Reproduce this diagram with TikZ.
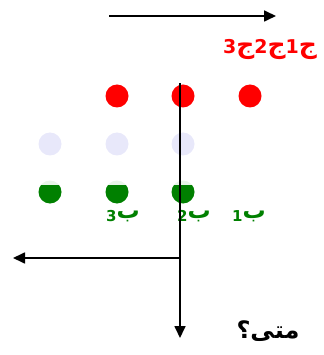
\documentclass[tikz,border=0pt]{standalone}
\usepackage{fontspec}
\usetikzlibrary{arrows.meta}
\newfontfamily\arabicfont[Script=Arabic]{DejaVu Sans}
\TeXXeTstate=1
\definecolor{lav}{RGB}{232,232,250}
\definecolor{grn}{RGB}{0,128,0}
\definecolor{palegrn}{RGB}{232,245,232}
\tikzset{
  dot/.style={circle,minimum size=23pt,inner sep=0pt},
  reddot/.style={dot,fill=red},
  lavdot/.style={dot,fill=lav},
  grndot/.style={dot,fill=palegrn},
  arr/.style={line width=1.7pt,-{Triangle[length=12pt,width=11pt]}},
  lbl/.style={inner sep=0pt,font=\arabicfont\bfseries\fontsize{23}{26}\selectfont},
}
\newcommand\subn[1]{\raisebox{-3pt}{\fontsize{15}{18}\selectfont #1}}
\newcommand\topn[1]{{\fontsize{19}{22}\selectfont #1}}
\begin{document}
\begin{tikzpicture}[x=1pt,y=-1pt]
\useasboundingbox (0,0) rectangle (323,355);
% red row
\node[reddot] (r1) at (117,96) {};
\node[reddot] (r2) at (183,96) {};
\node[reddot] (r3) at (250,96) {};
% lavender row
\node[lavdot] (l1) at (50,144) {};
\node[lavdot] (l2) at (117,144) {};
\node[lavdot] (l3) at (183,144) {};
% green row
\node[grndot] (g1) at (50,192) {};
\node[grndot] (g2) at (117,192) {};
\node[grndot] (g3) at (183,192) {};
\begin{scope}
\clip (0,185) rectangle (323,210);
\foreach \g in {g1,g2,g3} \fill[grn] (\g) circle (11.5pt);
\end{scope}
% labels
\node[lbl,text=red,font=\arabicfont\bfseries\fontsize{25}{28}\selectfont] (tj) at (270,50) {\beginR ج\topn{1}ج\topn{2}ج\topn{3}\endR};
\node[lbl,text=grn] (b3) at (123,216) {\beginR ب\subn{3}\endR};
\node[lbl,text=grn] (b2) at (194,216) {\beginR ب\subn{2}\endR};
\node[lbl,text=grn] (b1) at (249,216) {\beginR ب\subn{1}\endR};
\node[lbl,text=black,font=\arabicfont\bfseries\fontsize{24}{28}\selectfont] (q) at (268,331) {\beginR متى؟\endR};
% arrows
\coordinate (ta) at (109,16);
\coordinate (tb) at (276,16);
\draw[arr] (ta) -- (tb);
\coordinate (va) at (180,83);
\coordinate (vb) at (180,338);
\draw[arr] (va) -- (vb);
\coordinate (ha) at (180,258);
\coordinate (hb) at (13,258);
\draw[arr] (ha) -- (hb);
\end{tikzpicture}
\end{document}
